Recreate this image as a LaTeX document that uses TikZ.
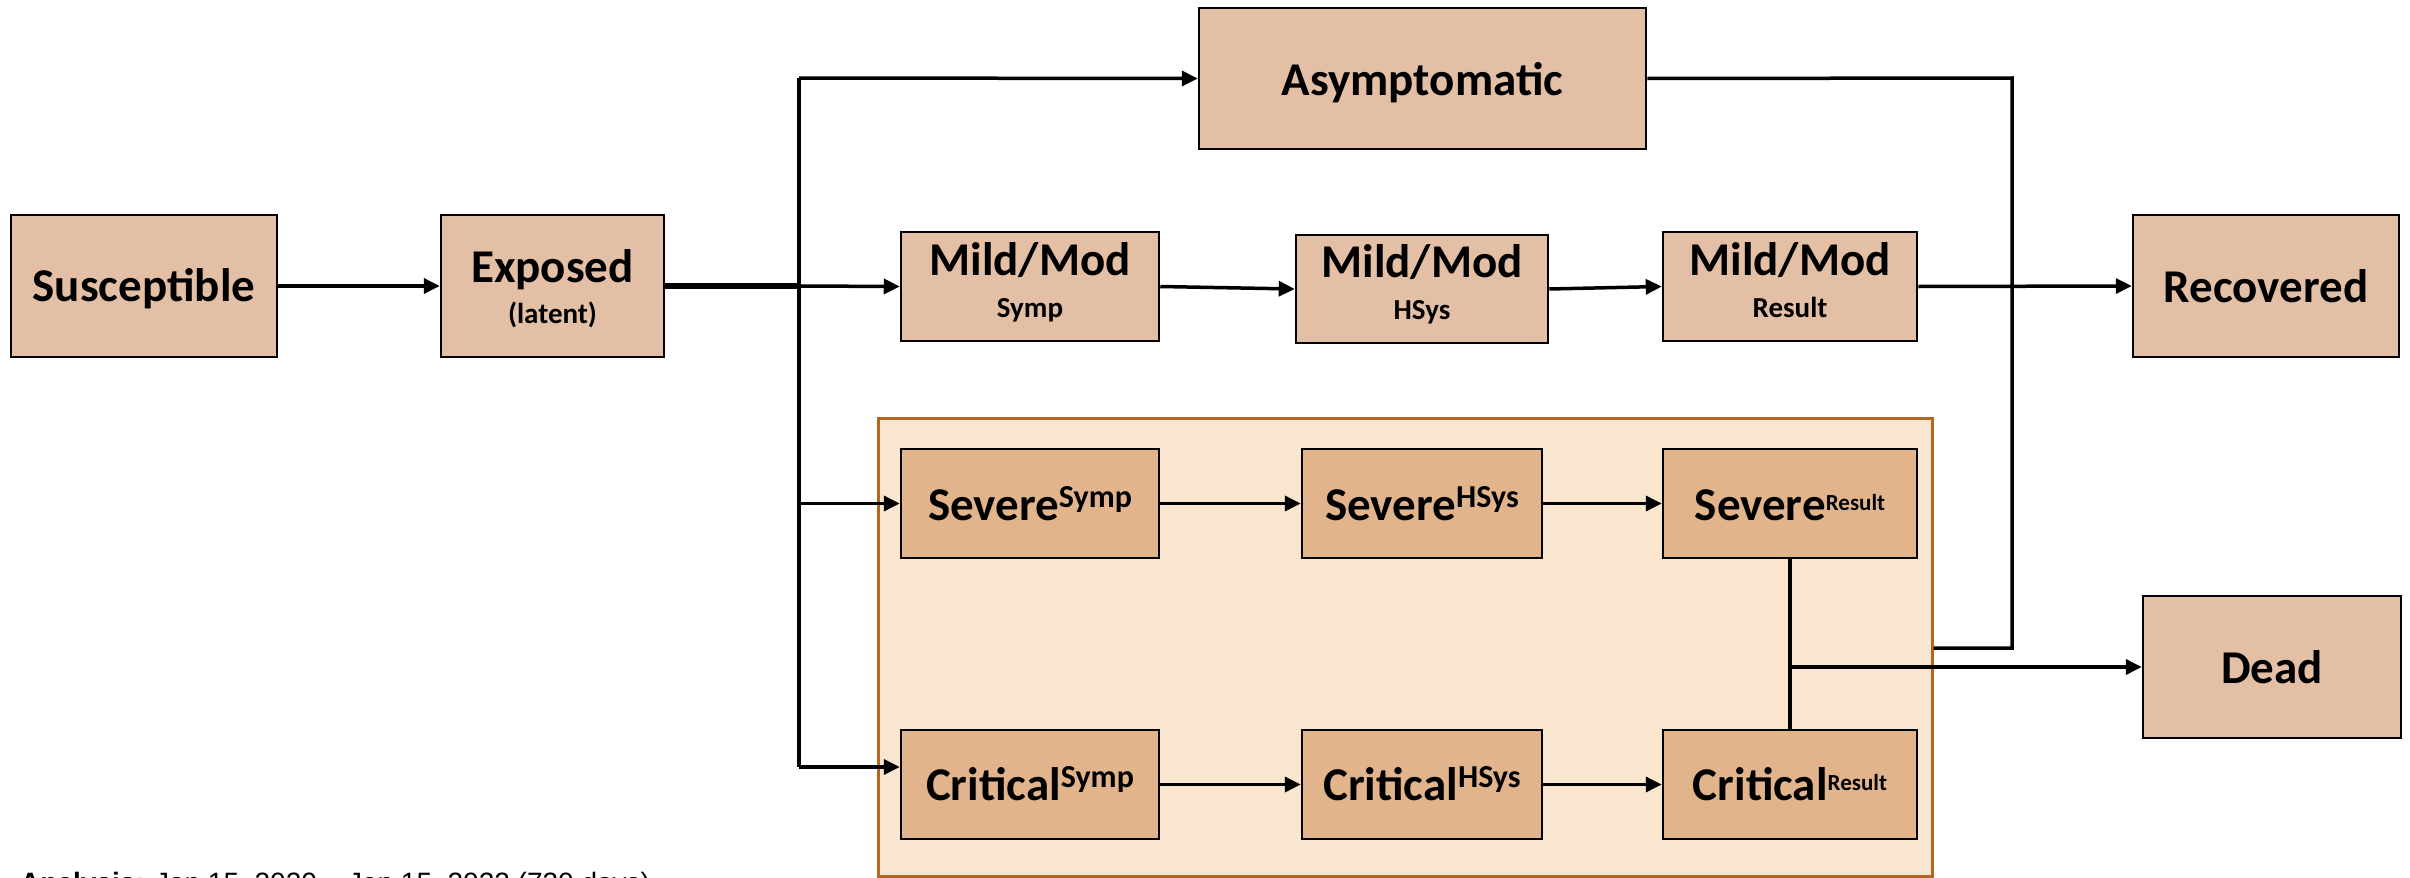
\documentclass[tikz,border=0pt]{standalone}
\usepackage{fontspec}
\setmainfont{Carlito}
\newfontfamily\notefont{Liberation Sans}
\usetikzlibrary{arrows.meta}

\definecolor{boxfill}{HTML}{E3BFA5}
\definecolor{sevfill}{HTML}{E1B48C}
\definecolor{panelfill}{HTML}{FAE5CE}
\definecolor{paneledge}{HTML}{B5661E}

\tikzset{
  stage/.style={draw=black, line width=2.5pt, fill=boxfill, inner sep=0pt, rectangle},
  sevstage/.style={stage, fill=sevfill},
  panel/.style={draw=paneledge, line width=3pt, fill=panelfill, inner sep=0pt, rectangle},
  bigtxt/.style={inner sep=0pt, anchor=base, font=\bfseries\fontsize{47}{47}\selectfont},
  subtxt/.style={inner sep=0pt, anchor=base, font=\bfseries\fontsize{29}{29}\selectfont},
  conn/.style={line width=3.5pt, line join=miter},
  flow/.style={conn, -{Triangle[length=16pt,width=15pt]}},
}
\newcommand{\supsmall}[1]{\raisebox{13pt}{\fontsize{32}{32}\selectfont #1}}
\newcommand{\supres}[1]{\raisebox{10pt}{\fontsize{23}{23}\selectfont #1}}

\begin{document}
\begin{tikzpicture}[x=1pt,y=-1pt]
\useasboundingbox (0,0) rectangle (2410,878);

% severity panel
\node[panel, minimum width=1054pt, minimum height=458pt] (sev) at (1405,647) {};

% stage boxes
\node[stage, minimum width=266pt, minimum height=142pt] (sus) at (144,286) {};
\node[stage, minimum width=223pt, minimum height=142pt] (exp) at (552.5,286) {};
\node[stage, minimum width=447pt, minimum height=141pt] (asym) at (1422.5,78.5) {};
\node[stage, minimum width=258pt, minimum height=109pt] (ms) at (1030,286.5) {};
\node[stage, minimum width=252pt, minimum height=108pt] (mh) at (1422,289) {};
\node[stage, minimum width=254pt, minimum height=109pt] (mr) at (1790,286.5) {};
\node[stage, minimum width=266pt, minimum height=142pt] (rec) at (2266,286) {};
\node[stage, minimum width=258pt, minimum height=142pt] (dead) at (2272,667) {};

\node[sevstage, minimum width=258pt, minimum height=109pt] (ss) at (1030,503.5) {};
\node[sevstage, minimum width=240pt, minimum height=109pt] (sh) at (1422,503.5) {};
\node[sevstage, minimum width=254pt, minimum height=109pt] (sr) at (1790,503.5) {};
\node[sevstage, minimum width=258pt, minimum height=109pt] (cs) at (1030,784.5) {};
\node[sevstage, minimum width=240pt, minimum height=109pt] (ch) at (1422,784.5) {};
\node[sevstage, minimum width=254pt, minimum height=109pt] (cr) at (1790,784.5) {};

% labels
\node[bigtxt] (sus-t) at (144,301) {Susceptible};
\node[bigtxt] (exp-t) at (552.5,282) {Exposed};
\node[subtxt] (exp-s) at (552.5,323) {(latent)};
\node[bigtxt] (asym-t) at (1422.5,95) {Asymptomatic};
\node[bigtxt] (ms-t) at (1030,275) {Mild/Mod};
\node[subtxt] (ms-s) at (1030,317) {Symp};
\node[bigtxt] (mh-t) at (1422,277) {Mild/Mod};
\node[subtxt] (mh-s) at (1422,319) {HSys};
\node[bigtxt] (mr-t) at (1790,275) {Mild/Mod};
\node[subtxt] (mr-s) at (1790,317) {Result};
\node[bigtxt] (rec-t) at (2266,302) {Recovered};
\node[bigtxt] (dead-t) at (2272,683) {Dead};
\node[bigtxt] (ss-t) at (1030,520) {Severe\supsmall{Symp}};
\node[bigtxt] (sh-t) at (1422,520) {Severe\supsmall{HSys}};
\node[bigtxt] (sr-t) at (1790,520) {Severe\supres{Result}};
\node[bigtxt] (cs-t) at (1030,800) {Critical\supsmall{Symp}};
\node[bigtxt] (ch-t) at (1422,800) {Critical\supsmall{HSys}};
\node[bigtxt] (cr-t) at (1790,800) {Critical\supres{Result}};

% period note along the lower edge
\node[inner sep=0pt, anchor=base west, font=\notefont\fontsize{28}{28}\selectfont] (note) at (20,892)
  {\textbf{Analysis:} Jan 15, 2020 – Jan 15, 2022 (730 days)};

% branching points
\coordinate (tTop) at (799,78);
\coordinate (tMid) at (799,286);
\coordinate (tBot) at (799,767);
\coordinate (rTop) at (2012,78);
\coordinate (rMid) at (2012,286);
\coordinate (rBot) at (2012,648);

% connectors
\draw[flow] (sus.east) -- (exp.west);
\draw[conn, line width=5.5pt] (exp.east) -- (tMid);
\draw[flow] (tMid) -- (ms.west);
\draw[conn] (tTop) -- (tBot);
\draw[flow] (tTop) -- (asym.west);
\draw[flow] (tTop |- ss.west) -- (ss.west);
\draw[flow] (tBot) -- (tBot -| cs.west);

\draw[flow] (ms.east) -- (mh.west);
\draw[flow] (mh.east) -- (mr.west);
\draw[flow] (mr.east) -- (rec.west);

\draw[flow] (ss.east) -- (sh.west);
\draw[flow] (sh.east) -- (sr.west);
\draw[flow] (cs.east) -- (ch.west);
\draw[flow] (ch.east) -- (cr.west);

\draw[conn] (asym.east) -- (rTop) -- (rBot) -- (rBot -| sev.east);
\draw[conn] (sr.south) -- (cr.north);
\draw[flow] (sr.south |- dead.west) -- (dead.west);
\end{tikzpicture}
\end{document}
